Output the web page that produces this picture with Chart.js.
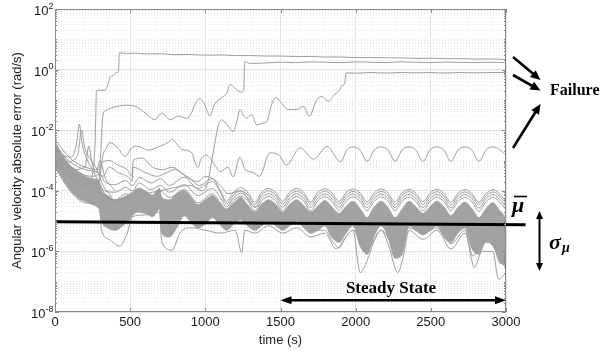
<!DOCTYPE html>
<html>
<head>
<meta charset="utf-8">
<title>Angular velocity absolute error</title>
<script src="https://cdn.jsdelivr.net/npm/chart.js@4.4.1/dist/chart.umd.min.js"></script>
<style>
  html, body { margin: 0; padding: 0; background: #fff; }
  #wrap { width: 600px; height: 353px; position: relative; }
</style>
</head>
<body>
<div id="wrap"><canvas id="chart"></canvas></div>
<script>
// ---- data: [time (s), error (rad/s)] ----
const failTop = [[0,1.5e-3],[60,6e-4],[150,3e-4],[230,2.2e-4],[258,8e-4],[268,6e-3],[276,0.2],[300,0.21],[333,0.21],[350,0.3],[366,0.55],[390,0.65],[410,0.8],[423,0.9],[428,3.6],[480,3.4],[530,3.5],[600,3.3],[700,3.35],[800,3.1],[900,3.15],[1000,3.0],[1100,3.05],[1200,2.9],[1300,2.9],[1400,2.8],[1500,2.8],[1600,2.7],[1700,2.7],[1800,2.6],[1900,2.6],[2000,2.5],[2100,2.5],[2200,2.45],[2300,2.45],[2400,2.35],[2500,2.38],[2600,2.3],[2700,2.3],[2800,2.22],[2900,2.25],[3000,2.15]];
const failMid = [[0,2e-3],[80,5e-4],[160,2.5e-4],[250,1.8e-4],[290,2e-4],[305,2e-3],[318,0.03],[340,0.045],[377,0.055],[420,0.062],[466,0.067],[532,0.062],[599,0.037],[640,0.025],[665,0.022],[690,0.03],[710,0.037],[740,0.028],[765,0.022],[820,0.029],[876,0.025],[905,0.035],[931,0.07],[960,0.11],[990,0.08],[1031,0.03],[1060,0.07],[1110,0.12],[1140,0.16],[1165,0.32],[1195,0.25],[1235,0.18],[1255,0.2],[1262,1.8],[1300,1.6],[1400,1.65],[1500,1.75],[1600,1.7],[1700,1.8],[1800,1.75],[1900,1.7],[2000,1.8],[2100,1.75],[2200,1.7],[2300,1.8],[2400,1.75],[2500,1.7],[2600,1.78],[2700,1.72],[2800,1.7],[2900,1.75],[3000,1.7]];
const failLow = [[0,1e-3],[100,2.5e-4],[200,1.2e-4],[300,8e-5],[400,5e-5],[500,6e-5],[600,8e-5],[700,1e-4],[800,1.3e-4],[900,1.5e-4],[980,1e-4],[1010,1.5e-4],[1054,2e-3],[1087,0.015],[1109,0.022],[1150,0.014],[1185,0.009],[1210,0.02],[1231,0.048],[1255,0.03],[1275,0.025],[1308,0.033],[1341,0.015],[1380,0.017],[1408,0.019],[1441,0.07],[1470,0.12],[1497,0.09],[1552,0.048],[1608,0.048],[1652,0.062],[1692,0.029],[1741,0.1],[1774,0.13],[1818,0.09],[1860,0.15],[1896,0.22],[1907,0.29],[1925,0.33],[1936,0.78],[2000,0.76],[2100,0.8],[2200,0.77],[2300,0.8],[2400,0.78],[2500,0.8],[2600,0.77],[2700,0.8],[2800,0.78],[2900,0.8],[3000,0.8]];
const oscLine = [[0,1.2e-3],[100,3e-4],[200,1.5e-4],[280,1.5e-4],[300,3e-4],[315,1.2e-3],[340,2.5e-3],[365,3.9e-3],[420,2.5e-3],[466,1.35e-3],[510,2.6e-3],[545,3e-3],[620,2.2e-3],[700,3e-3],[755,4e-3],[780,5e-3],[810,3.5e-3],[845,2.3e-3],[910,1.8e-3],[930,9e-4],[950,6e-4],[975,1.2e-3],[1010,1.5e-3],[1050,9e-4],[1100,4.3e-4],[1150,6e-4],[1185,2.9e-4],[1230,1.3e-3],[1265,5e-4],[1320,4e-4],[1360,3e-4],[1430,1.8e-3],[1490,1.5e-3],[1540,7e-4],[1630,2.6e-3],[1720,1.1e-3],[1810,2.9e-3],[1900,9e-4],[1941,2.2e-3],[1982,2.8e-3],[2029,2.2e-3],[2076,9.3e-4],[2123,2.2e-3],[2170,2.8e-3],[2216,2.2e-3],[2262,9.3e-4],[2308,2.2e-3],[2355,2.8e-3],[2401,2.2e-3],[2448,9.3e-4],[2494,2.2e-3],[2541,2.8e-3],[2587,2.2e-3],[2634,9.3e-4],[2680,2.2e-3],[2727,2.8e-3],[2773,2.2e-3],[2820,9.3e-4],[2866,2.2e-3],[2913,2.8e-3],[2956,2.3e-3],[3000,1.5e-3]];
const spikeA = [[0,4e-3],[50,1.6e-3],[110,1.3e-3],[145,4e-3],[162,1.6e-2],[178,4e-3],[210,1.2e-3],[260,4e-4],[300,1.5e-4],[350,6e-5],[420,4e-5]];
const spikeB = [[0,3e-3],[80,9e-4],[150,1.5e-3],[178,1e-2],[195,3e-3],[230,1.2e-3],[280,5e-4],[320,1.5e-4],[380,6e-5]];
const spikeC = [[0,2e-3],[120,5e-4],[200,6e-4],[225,3e-3],[245,9e-4],[275,4e-4],[300,1e-3],[330,3e-4],[400,1e-4]];
const midB = [[0,3e-3],[100,9e-4],[200,5e-4],[290,4e-4],[320,3e-4],[360,6e-4],[420,4e-4],[500,2.5e-4],[512,2e-4],[520,6e-4],[600,4e-4],[680,3e-4],[720,3.5e-4],[800,5e-4],[870,3e-4],[950,2e-4],[1000,3e-4],[1050,2.5e-4],[1100,1.5e-4],[1150,8e-5],[1234,1e-4],[1330,3e-5],[1421,5e-5]];

// early parts of the lines that ride just above the band
const midAEarly = [[0,5e-3],[60,2e-3],[120,1e-3],[200,6e-4],[290,5e-4],[310,8e-4],[360,1e-3],[420,7e-4],[480,5e-4],[512,3e-4],[520,1e-3],[580,1.2e-3],[650,6e-4],[720,5e-4],[780,6e-4],[840,4e-4],[900,2.5e-4],[960,1.5e-4],[1047,2.5e-4],[1100,1e-4]];
const fringe1Early = [[0,3e-3],[80,8e-4],[160,4e-4],[250,3e-4],[300,3.5e-4],[330,2e-4],[400,1.6e-4],[470,2.2e-4],[515,1.5e-4],[560,2.8e-4],[640,1.8e-4],[700,2.5e-4],[760,1.5e-4],[860,2.8e-4],[950,1.2e-4],[1047,2e-4],[1100,9e-5]];
const fringe2Early = [[0,2e-3],[80,6e-4],[160,3e-4],[250,2e-4],[300,1.5e-4],[330,1e-4],[400,9e-5],[470,1.3e-4],[515,1e-4],[560,1.8e-4],[640,1.1e-4],[700,1.5e-4],[760,9e-5],[860,1.6e-4],[950,7e-5],[1047,1.2e-4],[1100,6e-5]];
const fringe3Early = [[0,1.5e-3],[80,4e-4],[160,2e-4],[250,1.5e-4],[300,1e-4],[330,6e-5],[400,5e-5],[470,8e-5],[515,6e-5],[560,1.2e-4],[640,7e-5],[700,1e-4],[760,6e-5],[860,1.1e-4],[950,4e-5],[1047,8e-5],[1100,4e-5]];

// steady oscillating part, shared time stamps
const tSteady = [1140,1187,1234,1282,1330,1375,1421,1468,1515,1561,1608,1654,1700,1748,1795,1842,1890,1936,1982,2029,2076,2123,2170,2216,2262,2308,2355,2401,2448,2494,2541,2587,2634,2680,2727,2773,2820,2866,2913,2956,3000];
const midASteady = [4.5e-5,9e-5,1.25e-4,9e-5,4.2e-5,9e-5,1.2e-4,8.8e-5,4.5e-5,9e-5,1.2e-4,8.8e-5,4.3e-5,8.8e-5,1.18e-4,8.5e-5,4.5e-5,8.7e-5,1.15e-4,8.5e-5,4.4e-5,8.5e-5,1.15e-4,8.4e-5,4.3e-5,8.4e-5,1.12e-4,8.2e-5,4.4e-5,8.3e-5,1.12e-4,8.2e-5,4.2e-5,8.2e-5,1.1e-4,8e-5,4.2e-5,8e-5,1.1e-4,8e-5,4.5e-5];
const fringe1Steady = [3.6e-5,7.2e-5,1e-4,7.3e-5,3.5e-5,7.4e-5,1e-4,7.2e-5,3.7e-5,7.3e-5,9.8e-5,7.2e-5,3.6e-5,7.2e-5,9.8e-5,7e-5,3.7e-5,7.1e-5,9.6e-5,7e-5,3.6e-5,7e-5,9.6e-5,7e-5,3.5e-5,7e-5,9.4e-5,6.9e-5,3.6e-5,6.9e-5,9.4e-5,6.8e-5,3.5e-5,6.8e-5,9.2e-5,6.7e-5,3.5e-5,6.7e-5,9.2e-5,6.7e-5,3.8e-5];
const fringe2Steady = [2.9e-5,5.8e-5,8.2e-5,5.9e-5,2.8e-5,5.9e-5,8e-5,5.8e-5,2.9e-5,5.8e-5,8e-5,5.7e-5,2.8e-5,5.7e-5,7.9e-5,5.6e-5,2.9e-5,5.7e-5,7.8e-5,5.6e-5,2.8e-5,5.6e-5,7.8e-5,5.6e-5,2.8e-5,5.6e-5,7.6e-5,5.5e-5,2.8e-5,5.5e-5,7.6e-5,5.5e-5,2.7e-5,5.5e-5,7.5e-5,5.4e-5,2.7e-5,5.4e-5,7.5e-5,5.4e-5,3e-5];
const fringe3Steady = [2.3e-5,4.7e-5,6.6e-5,4.7e-5,2.2e-5,4.7e-5,6.5e-5,4.6e-5,2.3e-5,4.6e-5,6.5e-5,4.6e-5,2.2e-5,4.6e-5,6.4e-5,4.5e-5,2.3e-5,4.5e-5,6.3e-5,4.5e-5,2.2e-5,4.5e-5,6.3e-5,4.5e-5,2.2e-5,4.5e-5,6.2e-5,4.4e-5,2.2e-5,4.4e-5,6.2e-5,4.4e-5,2.2e-5,4.4e-5,6.1e-5,4.3e-5,2.1e-5,4.3e-5,6.1e-5,4.3e-5,2.4e-5];

// lines that dip below the band
const dipLine = [[0,6e-4],[100,1e-4],[200,4e-5],[295,2.5e-5],[310,5e-6],[360,2.5e-6],[430,1.5e-6],[480,4e-6],[515,1.4e-5],[600,1.6e-5],[695,2e-5],[710,2e-6],[780,1.1e-6],[830,4e-6],[905,6e-6],[1000,5e-6],[1100,4e-6],[1200,5e-6],[1242,9e-7],[1262,5e-6],[1330,4e-6],[1421,7e-6],[1515,4e-6],[1608,6e-6],[1700,3e-6],[1795,4e-6],[1870,1.2e-6],[1935,3e-6],[1982,5e-6],[2030,2e-7],[2076,5e-7],[2120,2e-6],[2170,5e-6],[2220,1.5e-6],[2280,2e-7],[2320,8e-7],[2355,5e-6],[2448,2.5e-6],[2541,5e-6],[2634,1.2e-6],[2727,4e-6],[2790,3e-7],[2840,1e-6],[2913,1e-6],[2950,1.2e-7],[3000,2e-7]];
const lowLine = [[1700,5e-6],[1795,5e-6],[1850,2e-6],[1890,1.3e-6],[1935,3e-6],[1982,5e-6],[2076,1.2e-6],[2170,5e-6],[2262,1.5e-6],[2355,6e-6],[2448,4e-6],[2541,6e-6],[2600,2.5e-6],[2634,1.8e-6],[2727,5e-6],[2780,7e-7],[2820,1.5e-6],[2913,3e-6],[2960,4e-7],[3000,6e-7]];

// dense band of the converged runs: upper and lower edge
const bandT = [0,50,100,150,200,250,295,310,350,400,450,500,515,550,600,650,695,710,760,810,860,905,950,1000,1047,1095,1140,1190,1234,1280,1330,1375,1421,1470,1515,1560,1608,1655,1700,1750,1795,1840,1890,1935,1982,2030,2076,2120,2170,2215,2262,2310,2355,2400,2448,2495,2541,2590,2634,2680,2727,2775,2820,2865,2913,2955,3000];
const bandHi = [4e-3,1.5e-3,7e-4,4.5e-4,3e-4,2.5e-4,2e-4,1e-4,7e-5,5e-5,6e-5,8e-5,9e-5,1.2e-4,1e-4,7e-5,1.2e-4,6e-5,5e-5,8e-5,1e-4,6e-5,3.5e-5,5e-5,7e-5,4e-5,2.5e-5,4e-5,6e-5,3.5e-5,2e-5,3.5e-5,5e-5,3.5e-5,2e-5,3.5e-5,5e-5,3.2e-5,2e-5,3.2e-5,4.8e-5,3e-5,1.8e-5,3e-5,4.5e-5,2.5e-5,1.3e-5,2.8e-5,4.5e-5,2.8e-5,1.3e-5,2.5e-5,4.5e-5,3e-5,1.8e-5,3e-5,4.5e-5,2.8e-5,1.5e-5,2.8e-5,4.2e-5,2.5e-5,1.3e-5,2.5e-5,4e-5,2.3e-5,1.3e-5];
const bandLo = [6e-4,2.5e-4,1.1e-4,6e-5,4.5e-5,3.5e-5,2.5e-5,1e-5,6e-6,5e-6,7e-6,1.2e-5,1.5e-5,2e-5,1.8e-5,1.4e-5,2.5e-5,4e-6,3e-6,6e-6,1.5e-5,9e-6,6e-6,8e-6,1.3e-5,8e-6,5e-6,8e-6,1.1e-5,7e-6,5e-6,7e-6,1e-5,7e-6,5e-6,7e-6,1e-5,6e-6,4e-6,5e-6,7e-6,3e-6,2e-6,4e-6,7e-6,1.5e-6,8e-7,3e-6,7e-6,3e-6,6e-7,8e-7,7e-6,5e-6,3.5e-6,5e-6,7e-6,3e-6,2e-6,4e-6,6e-6,1.2e-6,8e-7,2e-6,1.5e-6,5e-7,3e-7];

// mean level (extends past the axis) and steady-state span
const meanT = [0, 3130];
const meanV = [9.5e-6, 7.6e-6];
const steadySpan = [1500, 3000];
const steadyLevel = 2.45e-8;

// axis ticks
const yLabelExp = [-8, -6, -4, -2, 0, 2];
const yMinorSteps = [2, 3, 4, 5, 6, 7, 8, 9];

const GRAY = '#9d9d9d';
const SANS = '"Liberation Sans", Arial, Helvetica, sans-serif';
const SERIF = '"Liberation Serif", "Times New Roman", serif';

function pts(pairs){ return pairs.map(p => ({ x: p[0], y: p[1] })); }
function zip(t, v){ return t.map((x, i) => ({ x: x, y: v[i] })); }
function line(data, extra){
  return Object.assign({
    data: data, borderColor: GRAY, borderWidth: 1, pointRadius: 0,
    fill: false, cubicInterpolationMode: 'monotone'
  }, extra || {});
}
function isMajor(v){
  const e = Math.log10(v);
  return Math.abs(e - Math.round(e)) < 1e-6 && yLabelExp.includes(Math.round(e));
}

const yTicks = [];
for (let e = -8; e < 2; e++){
  yTicks.push(Math.pow(10, e));
  yMinorSteps.forEach(k => yTicks.push(Number((k * Math.pow(10, e)).toPrecision(3))));
}
yTicks.push(100);

function arrowHead(ctx, x1, y1, x2, y2, len, half){
  const a = Math.atan2(y2 - y1, x2 - x1);
  ctx.beginPath();
  ctx.moveTo(x2, y2);
  ctx.lineTo(x2 - len * Math.cos(a) + half * Math.sin(a), y2 - len * Math.sin(a) - half * Math.cos(a));
  ctx.lineTo(x2 - len * Math.cos(a) - half * Math.sin(a), y2 - len * Math.sin(a) + half * Math.cos(a));
  ctx.closePath();
  ctx.fill();
}
function arrow(ctx, x1, y1, x2, y2, w, len, half, both){
  const a = Math.atan2(y2 - y1, x2 - x1);
  const sx = both ? x1 + len * 0.8 * Math.cos(a) : x1;
  const sy = both ? y1 + len * 0.8 * Math.sin(a) : y1;
  ctx.lineWidth = w;
  ctx.beginPath();
  ctx.moveTo(sx, sy);
  ctx.lineTo(x2 - len * 0.8 * Math.cos(a), y2 - len * 0.8 * Math.sin(a));
  ctx.stroke();
  arrowHead(ctx, x1, y1, x2, y2, len, half);
  if (both) arrowHead(ctx, x2, y2, x1, y1, len, half);
}

const frame = {
  id: 'frame',
  afterDatasetsDraw(chart){
    const { ctx, chartArea: a, scales: { x, y } } = chart;
    ctx.save();
    ctx.strokeStyle = '#8a8a8a';
    ctx.lineWidth = 1;
    ctx.strokeRect(a.left + 0.5, a.top + 0.5, a.right - a.left - 1, a.bottom - a.top - 1);
    ctx.beginPath();
    for (let t = 0; t <= 3000; t += 500){
      const px = Math.round(x.getPixelForValue(t)) + 0.5;
      ctx.moveTo(px, a.bottom); ctx.lineTo(px, a.bottom - 4);
      ctx.moveTo(px, a.top); ctx.lineTo(px, a.top + 4);
    }
    yTicks.forEach(v => {
      const py = Math.round(y.getPixelForValue(v)) + 0.5;
      const len = isMajor(v) ? 4 : 2;
      ctx.moveTo(a.left, py); ctx.lineTo(a.left + len, py);
      ctx.moveTo(a.right, py); ctx.lineTo(a.right - len, py);
    });
    ctx.stroke();
    ctx.restore();
  },
  afterDraw(chart){
    const { ctx, chartArea: a, scales: { x, y } } = chart;
    ctx.save();
    // y tick labels with exponents
    ctx.fillStyle = '#1a1a1a';
    ctx.textBaseline = 'alphabetic';
    ctx.textAlign = 'right';
    yLabelExp.forEach(e => {
      const py = y.getPixelForValue(Math.pow(10, e));
      const sup = e < 0 ? '-' + (-e) : String(e);
      ctx.font = '9px ' + SANS;
      const sw = ctx.measureText(sup).width;
      ctx.fillText(sup, a.left - 1.5, py - 0.5);
      ctx.font = '13px ' + SANS;
      ctx.fillText('10', a.left - 1.5 - sw, py + 6);
    });

    ctx.fillStyle = '#000';
    ctx.strokeStyle = '#000';
    // steady state span
    const sy = y.getPixelForValue(steadyLevel);
    arrow(ctx, x.getPixelForValue(steadySpan[0]), sy, x.getPixelForValue(steadySpan[1]), sy, 2.5, 11, 4, true);
    ctx.font = 'bold 17px ' + SERIF;
    ctx.textAlign = 'center';
    ctx.fillText('Steady State', 391, 292.5);

    // failure arrows
    arrow(ctx, 513, 57, 540.5, 80, 2.6, 10, 4.5, false);
    arrow(ctx, 513, 75, 540.5, 90.5, 2.6, 10, 4.5, false);
    arrow(ctx, 513, 148, 540.5, 104, 2.6, 10, 4.5, false);
    ctx.font = 'bold 16px ' + SERIF;
    ctx.textAlign = 'left';
    ctx.fillText('Failure', 550, 94.5);

    // mean label
    ctx.font = 'italic bold 22px ' + SERIF;
    ctx.fillText('\u03bc', 512, 212);
    ctx.lineWidth = 1.6;
    ctx.beginPath(); ctx.moveTo(514, 196.5); ctx.lineTo(527, 196.5); ctx.stroke();

    // spread arrow and label
    arrow(ctx, 539.5, 211, 539.5, 271, 2, 8, 3.5, true);
    ctx.font = 'italic bold 22px ' + SERIF;
    ctx.fillText('\u03c3', 549, 248.5);
    ctx.font = 'italic bold 14px ' + SERIF;
    ctx.fillText('\u03bc', 562, 252);
    ctx.restore();
  }
};

const datasets = [
  line(zip(meanT, meanV), { borderColor: '#000', borderWidth: 3, cubicInterpolationMode: 'default', tension: 0, clip: false }),
  line(pts(failTop)),
  line(pts(failMid)),
  line(pts(failLow)),
  line(pts(oscLine)),
  line(pts(spikeA)),
  line(pts(spikeB)),
  line(pts(spikeC)),
  line(pts(midAEarly).concat(zip(tSteady, midASteady))),
  line(pts(midB)),
  line(pts(fringe1Early).concat(zip(tSteady, fringe1Steady))),
  line(pts(fringe2Early).concat(zip(tSteady, fringe2Steady))),
  line(pts(fringe3Early).concat(zip(tSteady, fringe3Steady))),
  line(pts(dipLine)),
  line(pts(lowLine)),
  line(zip(bandT, bandHi), { fill: '+1', backgroundColor: '#a2a2a2', borderColor: '#a2a2a2' }),
  line(zip(bandT, bandLo), { borderColor: '#a2a2a2' })
];

new Chart(document.getElementById('chart'), {
  type: 'line',
  data: { datasets: datasets },
  options: {
    responsive: true,
    maintainAspectRatio: false,
    animation: false,
    events: [],
    layout: { padding: { top: 9, right: 94, left: 0, bottom: 0 } },
    plugins: { legend: { display: false }, tooltip: { enabled: false } },
    scales: {
      x: {
        type: 'linear', min: 0, max: 3000,
        afterFit: s => { s.height = 41; },
        ticks: { stepSize: 500, color: '#1a1a1a', font: { family: SANS, size: 13 }, padding: 3, maxRotation: 0, callback: v => String(v) },
        grid: { color: '#e3e3e3', drawTicks: false },
        border: { display: false },
        title: { display: true, text: 'time (s)', color: '#1a1a1a', font: { family: SANS, size: 13 }, padding: { top: 0, bottom: 5 } }
      },
      y: {
        type: 'logarithmic', min: 1e-8, max: 100,
        afterBuildTicks: s => { s.ticks = yTicks.map(v => ({ value: v })); },
        afterFit: s => { s.width = 55; },
        ticks: { display: false, autoSkip: false },
        grid: {
          drawTicks: false,
          color: c => (c.tick && isMajor(c.tick.value)) ? '#e3e3e3' : '#e6e6e6'
        },
        border: { display: false, dash: c => (c.tick && !isMajor(c.tick.value)) ? [1, 2] : [] },
        title: { display: true, text: 'Angular velocity absolute error (rad/s)', color: '#1a1a1a', font: { family: SANS, size: 13 }, padding: { top: 10, bottom: 0 } }
      }
    }
  },
  plugins: [frame]
});
</script>
</body>
</html>
